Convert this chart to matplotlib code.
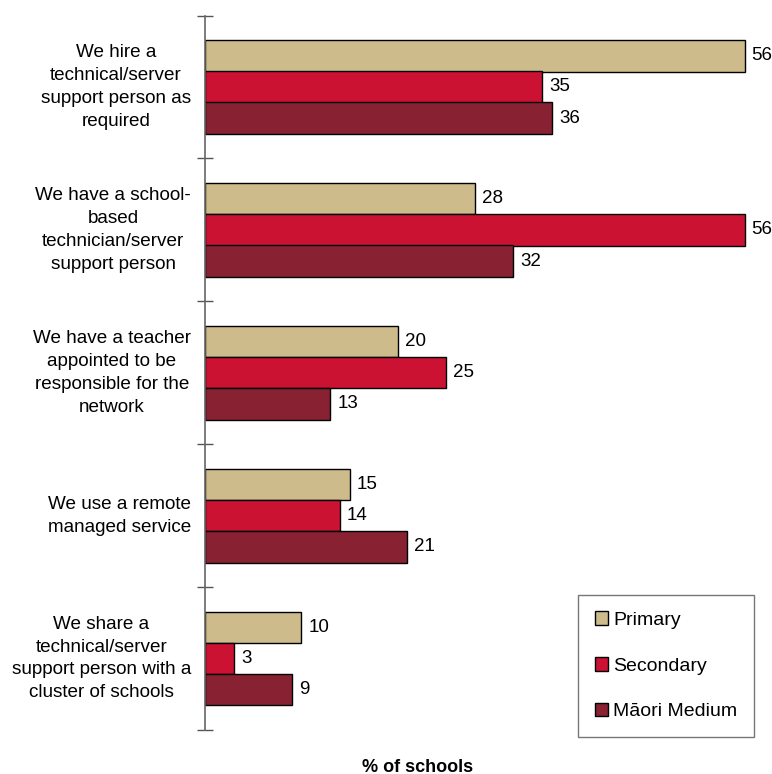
import numpy as np
import matplotlib.pyplot as plt
from matplotlib.patches import Patch

plt.rcParams['font.family'] = ['Liberation Sans', 'DejaVu Sans']

# survey responses, % of schools
categories = [
    "We hire a\ntechnical/server\nsupport person as\nrequired",
    "We have a school-\nbased\ntechnician/server\nsupport person",
    "We have a teacher\nappointed to be\nresponsible for the\nnetwork",
    "We use a remote\nmanaged service",
    "We share a\ntechnical/server\nsupport person with a\ncluster of schools",
]
series_names = ["Primary", "Secondary", "M\u0101ori Medium"]
primary = [56, 28, 20, 15, 10]
secondary = [35, 56, 25, 14, 3]
maori_medium = [36, 32, 13, 21, 9]
colours = ["#CDBB8B", "#CC1233", "#882132"]

W, H = 772, 774
fig = plt.figure(figsize=(W / 100, H / 100), dpi=100)
ax = fig.add_axes([205 / W, 44 / H, 559 / W, 714.5 / H])

fs = 13.5
bar_h = 0.22
offsets = [-0.218, 0.0, 0.218]
y = np.arange(len(categories)) + 0.5

for vals, off, col in zip([primary, secondary, maori_medium], offsets, colours):
    bars = ax.barh(y + off, vals, height=bar_h, color=col, edgecolor="black", linewidth=1.0)
    for b, v in zip(bars, vals):
        ax.annotate(str(v), (v, b.get_y() + b.get_height() / 2), xytext=(5, 0),
                    textcoords="offset points", ha="left", va="center", fontsize=fs)

ax.set_xlim(0, 58)
ax.set_ylim(len(categories), 0)
ax.set_yticks(np.arange(len(categories) + 1))
ax.set_yticklabels([])
ax.tick_params(axis="y", direction="inout", length=12, width=1, color="#555555")
ax.set_xticks([])
for s in ["top", "right", "bottom"]:
    ax.spines[s].set_visible(False)
ax.spines["left"].set_color("#666666")
ax.spines["left"].set_linewidth(1.2)

# category labels: right edge of each block at a fixed x, lines centred inside
for yy, lab in zip(y, categories):
    ax.text((191 - 205) / 559, yy, lab, transform=ax.get_yaxis_transform(),
            ha="right", va="center", multialignment="center", fontsize=13.6,
            linespacing=1.45)

fig.text(418 / W, 1 - 767 / H, "% of schools", ha="center", va="center",
         fontsize=13, fontweight="bold")

handles = [Patch(facecolor=c, edgecolor="black", linewidth=1.0) for c in colours]
leg = fig.legend(handles, series_names, loc="lower right",
                 bbox_to_anchor=(754 / W, 1 - 737 / H), fontsize=14,
                 frameon=True, fancybox=False, edgecolor="#555555",
                 handlelength=0.7, handleheight=0.7, handletextpad=0.25,
                 labelspacing=1.45, borderpad=0.85, borderaxespad=0)
leg.get_frame().set_linewidth(1.0)

fig.savefig("out.png", dpi=100)
